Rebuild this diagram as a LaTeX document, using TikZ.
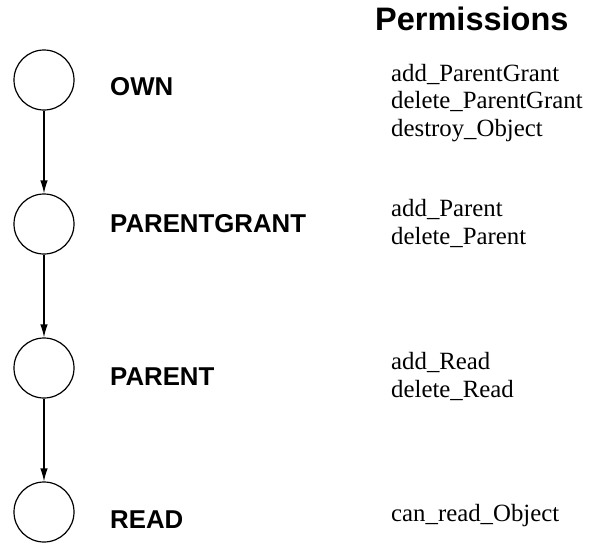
\documentclass[tikz,border=0pt]{standalone}
\usepackage{fontspec}
\setmainfont{Liberation Serif}
\newfontfamily\levelfont{Liberation Sans}
\usetikzlibrary{arrows.meta}

\tikzset{
  level/.style={circle, draw, line width=1.2pt, minimum size=60pt, inner sep=0pt},
  levelname/.style={anchor=base west, inner sep=0pt,
    font=\levelfont\bfseries\fontsize{25.8}{30}\selectfont},
  heading/.style={anchor=base west, inner sep=0pt,
    font=\levelfont\bfseries\fontsize{32.5}{38}\selectfont},
  % multi-line lists: the node's base is the baseline of its last line
  perms/.style={anchor=base west, inner sep=0pt, align=left,
    font=\fontsize{24.8}{27.5}\selectfont},
  grant/.style={line width=1.2pt, -{Latex[length=13pt,width=7.5pt]}}
}

\begin{document}
\begin{tikzpicture}[x=1pt, y=-1pt]
  \useasboundingbox (0,0) rectangle (592,542);

  % access levels, strongest on top
  \node[level] (own)         at (44,80)  {};
  \node[level] (parentgrant) at (44,224) {};
  \node[level] (parent)      at (44,368) {};
  \node[level] (read)        at (44,512) {};

  \draw[grant] (own) -- (parentgrant);
  \draw[grant] (parentgrant) -- (parent);
  \draw[grant] (parent) -- (read);

  % level names
  \node[levelname] (ownname)         at (110,95)  {OWN};
  \node[levelname] (parentgrantname) at (110,232) {PARENTGRANT};
  \node[levelname] (parentname)      at (110,385) {PARENT};
  \node[levelname] (readname)        at (110,528) {READ};

  % permissions granted at each level
  \node[heading] (permhead) at (375,30) {Permissions};
  \node[perms] (ownperms)         at (391,136) {add\_ParentGrant\\delete\_ParentGrant\\destroy\_Object};
  \node[perms] (parentgrantperms) at (391,244) {add\_Parent\\delete\_Parent};
  \node[perms] (parentperms)      at (391,397) {add\_Read\\delete\_Read};
  \node[perms] (readperms)        at (391,521) {can\_read\_Object};
\end{tikzpicture}
\end{document}
